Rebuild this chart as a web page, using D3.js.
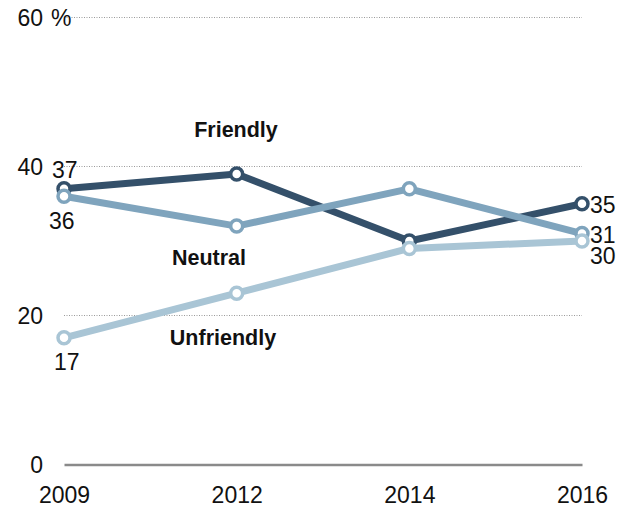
<!DOCTYPE html>
<html><head><meta charset="utf-8">
<script src="https://cdn.jsdelivr.net/npm/d3@7"></script>
<style>body{margin:0;background:#fff}svg{display:block}</style>
</head><body>
<svg id="c" width="630" height="508"></svg>
<script>
const years = ["2009", "2012", "2014", "2016"];
const friendly = [37, 39, 30, 35];
const neutral = [36, 32, 37, 31];
const unfriendly = [17, 23, 29, 30];
const yTicks = [0, 20, 40, 60];
const seriesNames = ["Friendly", "Neutral", "Unfriendly"];
const colors = ["#34506a", "#7fa4bd", "#a9c5d5"];

const series = [friendly, neutral, unfriendly].map((v, i) => ({name: seriesNames[i], values: v, color: colors[i]}));

const svg = d3.select("#c");
const x = d3.scalePoint().domain(years).range([64, 582]);
const y = d3.scaleLinear().domain([0, 60]).range([464.5, 17.5]);
const numFont = "'Liberation Sans', Arial, sans-serif";

// gridlines
svg.append("g").selectAll("line").data(yTicks.filter(d => d > 0)).join("line")
  .attr("x1", 64).attr("x2", 582)
  .attr("y1", d => y(d)).attr("y2", d => y(d))
  .attr("stroke", "#9a9a9a").attr("stroke-width", 1).attr("stroke-dasharray", "1,1.5");

// y labels
const yl = svg.append("g");
yl.selectAll("text").data(yTicks).join("text")
  .attr("x", 43).attr("y", d => y(d) + 8)
  .attr("text-anchor", "end")
  .attr("font-family", numFont).attr("font-size", 23).attr("fill", "#111")
  .text(d => d);
yl.append("text").attr("x", 51).attr("y", y(60) + 8)
  .attr("font-family", numFont).attr("font-size", 23).attr("fill", "#111")
  .text("%");

// baseline axis
const xAxis = d3.axisBottom(x).tickSize(0).tickPadding(22);
const gx = svg.append("g").attr("transform", `translate(0,${y(0)})`).call(xAxis);
gx.select(".domain").attr("stroke", "#8a8a8a").attr("stroke-width", 2.5);
gx.selectAll("text").attr("font-family", numFont).attr("font-size", 23).attr("fill", "#111");

// lines
const line = d3.line().x((d, i) => x(years[i])).y(d => y(d));
series.forEach(s => {
  const g = svg.append("g");
  g.append("path").attr("d", line(s.values)).attr("fill", "none")
    .attr("stroke", s.color).attr("stroke-width", 7).attr("stroke-linejoin", "round");
  g.selectAll("circle").data(s.values).join("circle")
    .attr("cx", (d, i) => x(years[i])).attr("cy", d => y(d)).attr("r", 6)
    .attr("fill", "#fff").attr("stroke", s.color).attr("stroke-width", 3.5);
});

const labG = svg.append("g");
// value labels
const lab = (t, xx, yy, anchor) => labG.append("text").attr("x", xx).attr("y", yy)
  .attr("text-anchor", anchor || "start").attr("font-family", numFont).attr("font-size", 23).attr("fill", "#111").text(t);
lab(friendly[0], x(years[0]) - 12, y(friendly[0]) - 11);
lab(neutral[0], x(years[0]) - 15, y(neutral[0]) + 33);
lab(unfriendly[0], x(years[0]) - 10, y(unfriendly[0]) + 32);
lab(friendly[3], x(years[3]) + 8, y(friendly[3]) + 9);
lab(neutral[3], x(years[3]) + 8, y(neutral[3]) + 9);
lab(unfriendly[3], x(years[3]) + 8, y(unfriendly[3]) + 23);

// series labels
const sl = (t, cx, by) => labG.append("text").attr("x", cx).attr("y", by).attr("text-anchor", "middle")
  .attr("font-family", "'Liberation Sans', Arial, sans-serif").attr("font-weight", "bold")
  .attr("font-size", 21.5).attr("fill", "#111").text(t);
sl(seriesNames[0], 236, y(43.9));
sl(seriesNames[1], 209, y(26.8));
sl(seriesNames[2], 223, y(16.0));
</script>
</body></html>
